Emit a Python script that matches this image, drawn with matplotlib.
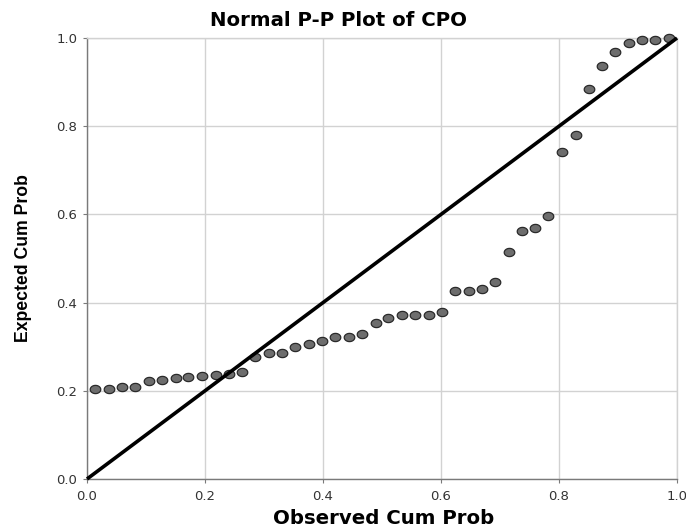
import numpy as np
import matplotlib
matplotlib.use("Agg")
import matplotlib.pyplot as plt
from matplotlib.path import Path

# ---- data ----
observed_cum_prob = [0.014, 0.037, 0.059, 0.082, 0.105, 0.127, 0.150, 0.172, 0.195, 0.218,
                     0.240, 0.263, 0.285, 0.308, 0.331, 0.353, 0.376, 0.398, 0.421, 0.444,
                     0.466, 0.489, 0.511, 0.534, 0.556, 0.579, 0.602, 0.624, 0.647, 0.669,
                     0.692, 0.715, 0.737, 0.760, 0.782, 0.805, 0.828, 0.850, 0.873, 0.895,
                     0.918, 0.941, 0.963, 0.986]
expected_cum_prob = [0.204, 0.204, 0.208, 0.209, 0.222, 0.224, 0.229, 0.231, 0.234, 0.236,
                     0.238, 0.243, 0.277, 0.286, 0.286, 0.299, 0.306, 0.313, 0.322, 0.322,
                     0.329, 0.354, 0.365, 0.372, 0.372, 0.372, 0.379, 0.426, 0.426, 0.430,
                     0.446, 0.515, 0.563, 0.570, 0.597, 0.741, 0.780, 0.884, 0.937, 0.968,
                     0.989, 0.995, 0.995, 0.999]
ref_line = [0.0, 1.0]
ticks = [0.0, 0.2, 0.4, 0.6, 0.8, 1.0]
tick_labels = ["0.0", "0.2", "0.4", "0.6", "0.8", "1.0"]

title = "Normal P-P Plot of CPO"
xlabel = "Observed Cum Prob"
ylabel = "Expected Cum Prob"

# ---- figure ----
fig = plt.figure(figsize=(6.86, 5.32), dpi=100)
ax = fig.add_axes([87 / 686, 53 / 532, 590 / 686, 441 / 532])

# elliptical marker (reference is horizontally stretched)
t = np.linspace(0, 2 * np.pi, 40)
ell = Path(np.column_stack([0.5 * np.cos(t), 0.39 * np.sin(t)]), closed=True)

ax.plot(observed_cum_prob, expected_cum_prob, linestyle="none", marker=ell,
        markersize=7.6, markerfacecolor="#6d6d6d", markeredgecolor="#2a2a2a",
        markeredgewidth=0.9, zorder=3, clip_on=False)
ax.plot(ref_line, ref_line, color="black", linewidth=2.6, zorder=4,
        solid_capstyle="butt", clip_on=False)

ax.set_xlim(0, 1)
ax.set_ylim(0, 1)
ax.set_xticks(ticks)
ax.set_yticks(ticks)
ax.set_xticklabels(tick_labels)
ax.set_yticklabels(tick_labels)
ax.tick_params(axis="both", length=3, width=0.8, color="#7a7a7a",
               labelsize=9.5, labelcolor="#333333")
ax.tick_params(axis="x", pad=5)
ax.tick_params(axis="y", pad=4)

ax.grid(True, color="#d2d2d2", linewidth=1.0, zorder=0)
ax.set_axisbelow(True)
for s in ["top", "right"]:
    ax.spines[s].set_color("#d2d2d2")
    ax.spines[s].set_linewidth(1.0)
for s in ["left", "bottom"]:
    ax.spines[s].set_color("#7a7a7a")
    ax.spines[s].set_linewidth(1.0)

fig.text(338.5 / 686, 1 - 21 / 532, title, ha="center", va="center",
         fontsize=14.2, fontweight="bold", color="black", family="DejaVu Sans")
fig.text(383.5 / 686, 1 - 518 / 532, xlabel, ha="center", va="center",
         fontsize=14.2, fontweight="bold", color="black", family="DejaVu Sans")
fig.text(24 / 686, 1 - 258.5 / 532, ylabel, ha="center", va="center", rotation=90,
         fontsize=12.7, fontweight="bold", color="black",
         family=["Liberation Sans", "DejaVu Sans"])

fig.savefig("out.png", dpi=100)
